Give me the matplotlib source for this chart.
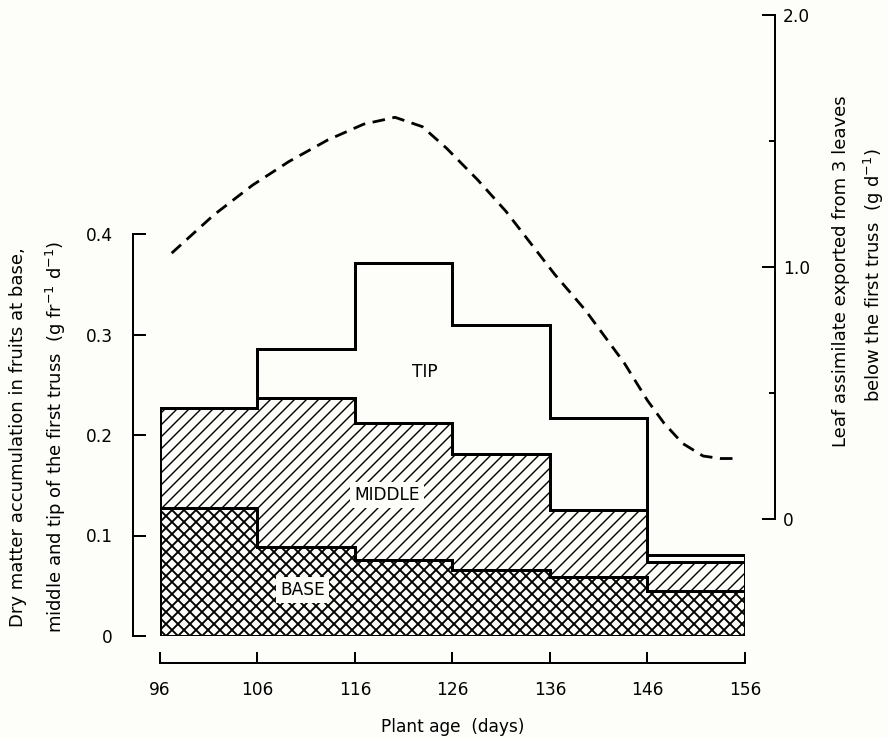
import numpy as np
import matplotlib
matplotlib.use("Agg")
import matplotlib.pyplot as plt
from matplotlib.collections import LineCollection
from matplotlib.transforms import IdentityTransform

# Data
edges = [96, 106, 116, 126, 136, 146, 156]
base_top = [0.127, 0.089, 0.076, 0.066, 0.059, 0.045]
middle_top = [0.227, 0.237, 0.212, 0.181, 0.125, 0.074]
tip_top = [0.227, 0.286, 0.371, 0.309, 0.217, 0.081]

export_days = [97.2, 101.5, 105.5, 109.2, 113.2, 116.9, 120.1, 122.9, 125.4,
               128.6, 131.5, 134.3, 136.5, 139.6, 143.6, 146.0, 147.7, 149.6,
               151.7, 153.5, 155.2]
export_vals = [1.055, 1.206, 1.325, 1.418, 1.504, 1.567, 1.594, 1.557, 1.471,
               1.345, 1.22, 1.08, 0.97, 0.83, 0.62, 0.47, 0.38, 0.30,
               0.25, 0.24, 0.24]

x_ticks = [96, 106, 116, 126, 136, 146, 156]
left_ticks = [0, 0.1, 0.2, 0.3, 0.4]
left_labels = ["0", "0.1", "0.2", "0.3", "0.4"]
right_ticks = [0, 1.0, 2.0]
right_labels = ["0", "1.0", "2.0"]

plt.rcParams['font.family'] = ['DejaVu Sans']

W, H = 888, 738
bg = '#fdfdf9'
fs = 17
fig = plt.figure(figsize=(W / 72, H / 72), dpi=72, facecolor=bg)

ax = fig.add_axes([160 / W, 102 / H, 585 / W, 402 / H])
ax.set_facecolor('none')
ax.set_xlim(96, 156)
ax.set_ylim(0, 0.4)


def hatch(patch, slopes, step, lw):
    # diagonal lines in pixel space, clipped to the patch outline
    bb = ax.bbox
    x0, y0, x1, y1 = bb.x0, bb.y0, bb.x1, bb.y1
    h = y1 - y0
    segs = []
    for m in slopes:
        run = h / m
        for c in np.arange(x0 - abs(run) - step, x1 + abs(run) + step, step):
            segs.append([(c, y0), (c + run, y1)])
    lc = LineCollection(segs, colors='black', linewidths=lw,
                        transform=IdentityTransform())
    ax.add_collection(lc, autolim=False)
    lc.set_clip_path(patch)


base_patch = ax.stairs(base_top, edges, baseline=0, fill=True,
                       facecolor=bg, linewidth=0)
mid_patch = ax.stairs(middle_top, edges, baseline=base_top, fill=True,
                      facecolor=bg, linewidth=0)
hatch(base_patch, [1, -1], 12, 1.9)
hatch(mid_patch, [1], 12, 1.4)

# outlines
lw = 3
ax.stairs(tip_top, edges, baseline=0, color='black', linewidth=lw)
ax.stairs(middle_top, edges, baseline=None, color='black', linewidth=lw)
ax.stairs(base_top, edges, baseline=None, color='black', linewidth=lw)
ax.plot([edges[0], edges[-1]], [0, 0], color='black', linewidth=lw,
        solid_capstyle='projecting')

box = dict(facecolor=bg, edgecolor='none', pad=4)
ax.text(123.2, 0.263, "TIP", ha='center', va='center', fontsize=fs)
ax.text(119.3, 0.140, "MIDDLE", ha='center', va='center', fontsize=fs, bbox=box)
ax.text(110.6, 0.046, "BASE", ha='center', va='center', fontsize=fs, bbox=box)

for s in ['top', 'right']:
    ax.spines[s].set_visible(False)
ax.spines['left'].set_position(('outward', 27))
ax.spines['bottom'].set_position(('outward', 27))
ax.spines['left'].set_bounds(0, 0.4)
ax.spines['bottom'].set_bounds(96, 156)
ax.spines['left'].set_linewidth(2)
ax.spines['bottom'].set_linewidth(2)

ax.set_xticks(x_ticks)
ax.set_yticks(left_ticks)
ax.set_yticklabels(left_labels)
ax.tick_params(axis='y', direction='in', length=13, width=2, pad=20,
               labelsize=fs)
ax.tick_params(axis='x', direction='in', length=11, width=2, pad=18,
               labelsize=fs)
ax.set_xlabel("Plant age  (days)", fontsize=fs, labelpad=19)

# right axis for exported assimilate
ax2 = fig.add_axes([160 / W, 219 / H, 585 / W, 504 / H])
ax2.set_facecolor('none')
ax2.set_xlim(96, 156)
ax2.set_ylim(0, 2.0)
line, = ax2.plot(export_days, export_vals, color='black', linewidth=2.8,
                 linestyle='--')
line.set_dashes((4.5, 2.7))
for s in ['top', 'left', 'bottom']:
    ax2.spines[s].set_visible(False)
ax2.spines['right'].set_position(('outward', 30))
ax2.spines['right'].set_bounds(0, 2.0)
ax2.spines['right'].set_linewidth(2)
ax2.set_xticks([])
ax2.yaxis.tick_right()
ax2.set_yticks(right_ticks)
ax2.set_yticklabels(right_labels)
ax2.set_yticks([0.5, 1.5], minor=True)
ax2.tick_params(axis='y', which='major', direction='in', length=13, width=2,
                pad=8, labelsize=fs)
ax2.tick_params(axis='y', which='minor', direction='in', length=6, width=2)

# axis titles
tfs = 18
fig.text(18 / W, 1 - 437 / H, "Dry matter accumulation in fruits at base,",
         rotation=90, ha='center', va='center', fontsize=tfs)
fig.text(56 / W, 1 - 437 / H,
         r"middle and tip of the first truss  (g fr$^{-1}$ d$^{-1}$)",
         rotation=90, ha='center', va='center', fontsize=tfs)
fig.text(841 / W, 1 - 271 / H, "Leaf assimilate exported from 3 leaves",
         rotation=90, ha='center', va='center', fontsize=tfs)
fig.text(874 / W, 1 - 275 / H, r"below the first truss  (g d$^{-1}$)",
         rotation=90, ha='center', va='center', fontsize=tfs)

fig.savefig("out.png", dpi=72, facecolor=bg)
